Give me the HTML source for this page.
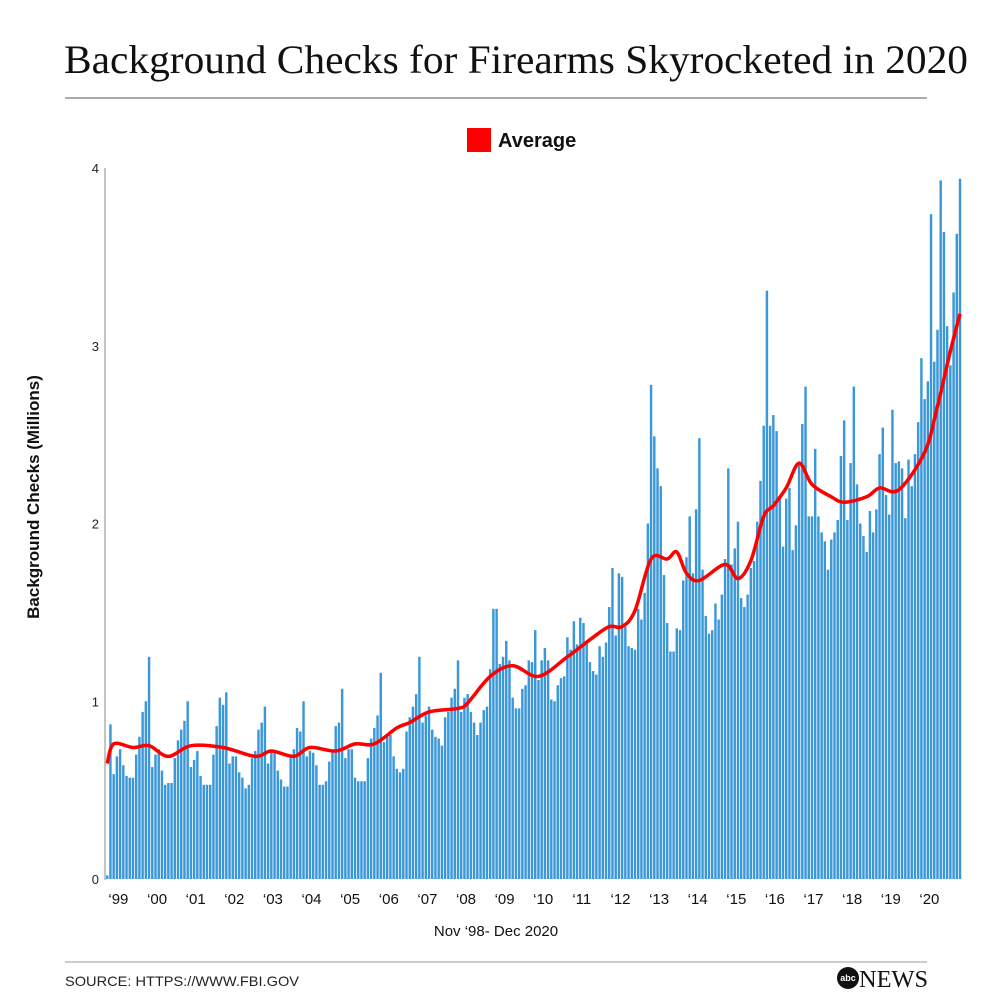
<!DOCTYPE html>
<html><head><meta charset="utf-8"><style>
html,body{margin:0;padding:0;background:#fff;}
svg{display:block;}
</style></head><body>
<svg id="chart" width="992" height="992" viewBox="0 0 992 992" xmlns="http://www.w3.org/2000/svg">
<text x="516" y="73" text-anchor="middle" font-family="Liberation Serif, serif" font-size="40" textLength="904" lengthAdjust="spacingAndGlyphs" fill="#111">Background Checks for Firearms Skyrocketed in 2020</text>
<line x1="65" y1="98" x2="927" y2="98" stroke="#555" stroke-width="1"/>
<g>
<rect x="467" y="128" width="24" height="24" fill="#f00"/>
<text x="498" y="147" font-family="Liberation Sans, sans-serif" font-weight="bold" font-size="20" fill="#111">Average</text>
</g>
<text transform="translate(39,497) rotate(-90)" text-anchor="middle" font-family="Liberation Sans, sans-serif" font-weight="bold" font-size="17" fill="#111">Background Checks (Millions)</text>
<g id="yticks"></g>
<g id="bars"></g>
<path id="avg" fill="none" stroke="#f00" stroke-width="3.5" stroke-linejoin="round"/>
<line x1="105" y1="168" x2="105" y2="880" stroke="#888" stroke-width="1"/>
<g id="xticks"></g>
<text x="496" y="936" text-anchor="middle" font-family="Liberation Sans, sans-serif" font-size="15" fill="#111">Nov ‘98- Dec 2020</text>
<line x1="65" y1="962" x2="927" y2="962" stroke="#999" stroke-width="1"/>
<text x="65" y="986" font-family="Liberation Sans, sans-serif" font-size="14" fill="#222" textLength="234" lengthAdjust="spacingAndGlyphs">SOURCE: HTTPS://WWW.FBI.GOV</text>
<g>
<circle cx="848" cy="978" r="11" fill="#111"/>
<text x="848" y="981" text-anchor="middle" font-family="Liberation Sans, sans-serif" font-weight="bold" font-size="9" fill="#fff">abc</text>
<text x="859" y="987" font-family="Liberation Serif, serif" font-size="24" fill="#111" textLength="69" lengthAdjust="spacingAndGlyphs">NEWS</text>
</g>
</svg>
<script>
const yTickValues = [0, 1, 2, 3, 4];
const yearLabels = ["‘99","‘00","‘01","‘02","‘03","‘04","‘05","‘06","‘07","‘08","‘09","‘10","‘11","‘12","‘13","‘14","‘15","‘16","‘17","‘18","‘19","‘20"];
const v1998 = [0.02, 0.87];
const v1999 = [0.59,0.69,0.73,0.64,0.58,0.57,0.57,0.70,0.80,0.94,1.00,1.25];
const v2000 = [0.63,0.70,0.73,0.61,0.53,0.54,0.54,0.68,0.78,0.84,0.89,1.00];
const v2001 = [0.63,0.67,0.72,0.58,0.53,0.53,0.53,0.70,0.86,1.02,0.98,1.05];
const v2002 = [0.65,0.69,0.69,0.60,0.57,0.51,0.53,0.68,0.72,0.84,0.88,0.97];
const v2003 = [0.65,0.72,0.71,0.61,0.56,0.52,0.52,0.68,0.73,0.85,0.83,1.00];
const v2004 = [0.69,0.72,0.71,0.64,0.53,0.53,0.55,0.66,0.72,0.86,0.88,1.07];
const v2005 = [0.68,0.73,0.73,0.57,0.55,0.55,0.55,0.68,0.79,0.85,0.92,1.16];
const v2006 = [0.77,0.80,0.81,0.69,0.62,0.60,0.62,0.83,0.91,0.97,1.04,1.25];
const v2007 = [0.88,0.92,0.97,0.84,0.80,0.79,0.75,0.91,0.94,1.02,1.07,1.23];
const v2008 = [0.94,1.02,1.04,0.94,0.88,0.81,0.88,0.95,0.97,1.18,1.52,1.52];
const v2009 = [1.21,1.25,1.34,1.23,1.02,0.96,0.96,1.07,1.09,1.23,1.22,1.40];
const v2010 = [1.12,1.23,1.30,1.23,1.01,1.00,1.09,1.13,1.14,1.36,1.29,1.45];
const v2011 = [1.32,1.47,1.44,1.34,1.22,1.17,1.15,1.31,1.25,1.33,1.53,1.75];
const v2012 = [1.37,1.72,1.70,1.42,1.31,1.30,1.29,1.52,1.46,1.61,2.00,2.78];
const v2013 = [2.49,2.31,2.21,1.71,1.44,1.28,1.28,1.41,1.40,1.68,1.81,2.04];
const v2014 = [1.72,2.08,2.48,1.74,1.48,1.38,1.40,1.55,1.46,1.60,1.80,2.31];
const v2015 = [1.77,1.86,2.01,1.58,1.53,1.60,1.75,1.79,2.01,2.24,2.55,3.31];
const v2016 = [2.55,2.61,2.52,2.14,1.87,2.14,2.20,1.85,1.99,2.34,2.56,2.77];
const v2017 = [2.04,2.04,2.42,2.04,1.95,1.90,1.74,1.91,1.95,2.02,2.38,2.58];
const v2018 = [2.02,2.34,2.77,2.22,2.00,1.93,1.84,2.07,1.95,2.08,2.39,2.54];
const v2019 = [2.16,2.05,2.64,2.34,2.35,2.31,2.03,2.36,2.21,2.39,2.57,2.93];
const v2020 = [2.70,2.80,3.74,2.91,3.09,3.93,3.64,3.11,2.89,3.30,3.63,3.94];
const avgMonth = [0,2,8,13,19,26,36,46,51,58,63,71,77,83,90,94,100,109,112,119,126,134,143,151,156,160,164,169,174,177,180,184,192,196,200,204,207,211,215,219,225,229,236,240,246,254,258,262,265];
const avgValue = [0.65,0.76,0.74,0.75,0.69,0.75,0.74,0.69,0.72,0.69,0.74,0.72,0.76,0.76,0.85,0.88,0.94,0.96,0.99,1.14,1.20,1.14,1.25,1.36,1.42,1.42,1.51,1.80,1.80,1.84,1.72,1.68,1.77,1.69,1.79,2.04,2.10,2.20,2.34,2.22,2.15,2.12,2.15,2.20,2.19,2.40,2.66,2.97,3.18];

const values = [].concat(v1998,v1999,v2000,v2001,v2002,v2003,v2004,v2005,v2006,v2007,v2008,v2009,v2010,v2011,v2012,v2013,v2014,v2015,v2016,v2017,v2018,v2019,v2020);
const NS='http://www.w3.org/2000/svg';
const x0=106, x1=962, yBase=879, yTop=168, yMax=4;
const n=values.length;
const step=(x1-x0)/n;
const xScale=i=>x0+i*step;
const yScale=v=>yBase-(v/yMax)*(yBase-yTop);

const bars=document.getElementById('bars');
values.forEach((v,i)=>{
  const r=document.createElementNS(NS,'rect');
  r.setAttribute('x',xScale(i).toFixed(2));
  r.setAttribute('width',(step*0.76).toFixed(2));
  r.setAttribute('y',yScale(v).toFixed(2));
  r.setAttribute('height',(yBase-yScale(v)).toFixed(2));
  r.setAttribute('fill','#3b98d8');
  
  
  bars.appendChild(r);
});

const yt=document.getElementById('yticks');
yTickValues.forEach(t=>{
  const tx=document.createElementNS(NS,'text');
  tx.setAttribute('x',99);tx.setAttribute('y',yScale(t)+5);
  tx.setAttribute('text-anchor','end');
  tx.setAttribute('font-family','Liberation Sans, sans-serif');
  tx.setAttribute('font-size','13');tx.setAttribute('fill','#222');
  tx.textContent=String(t);
  
  
  yt.appendChild(tx);
});

const xt=document.getElementById('xticks');
yearLabels.forEach((lab,k)=>{
  const idx=2+k*12;
  const tx=document.createElementNS(NS,'text');
  tx.setAttribute('x',(xScale(idx)+6).toFixed(1));tx.setAttribute('y',904);
  tx.setAttribute('text-anchor','middle');
  tx.setAttribute('font-family','Liberation Sans, sans-serif');
  tx.setAttribute('font-size','15');tx.setAttribute('fill','#111');
  tx.textContent=lab;
  
  
  xt.appendChild(tx);
});

const pts=avgMonth.map((m,i)=>[xScale(m)+step*0.38,yScale(avgValue[i])]);
let d='M'+pts[0][0].toFixed(1)+','+pts[0][1].toFixed(1);
for(let i=0;i<pts.length-1;i++){
  const p0=pts[Math.max(0,i-1)],p1=pts[i],p2=pts[i+1],p3=pts[Math.min(pts.length-1,i+2)];
  const c1=[p1[0]+(p2[0]-p0[0])/6,p1[1]+(p2[1]-p0[1])/6];
  const c2=[p2[0]-(p3[0]-p1[0])/6,p2[1]-(p3[1]-p1[1])/6];
  d+=' C'+c1[0].toFixed(1)+','+c1[1].toFixed(1)+' '+c2[0].toFixed(1)+','+c2[1].toFixed(1)+' '+p2[0].toFixed(1)+','+p2[1].toFixed(1);
}
document.getElementById('avg').setAttribute('d',d);
</script>
</body></html>
